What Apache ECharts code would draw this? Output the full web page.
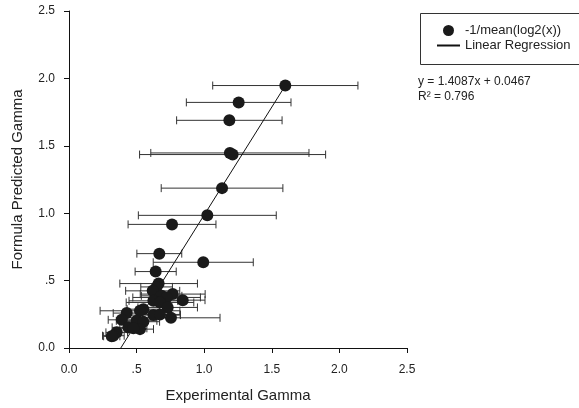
<!DOCTYPE html>
<html>
<head>
<meta charset="utf-8">
<script src="https://cdn.jsdelivr.net/npm/echarts@6/dist/echarts.min.js"></script>
<style>
  html, body { margin: 0; padding: 0; background: #fff; }
  #main { width: 579px; height: 408px; }
</style>
</head>
<body>
<div id="main"></div>
<script>
// measured values (x = experimental, y = predicted, err = half width of x bar)
const expGamma = [1.60, 1.255, 1.186, 1.19, 1.21, 1.132, 1.023, 0.762, 0.668, 0.993,
  0.641, 0.663, 0.648, 0.619, 0.767, 0.685, 0.722, 0.841, 0.624, 0.673,
  0.730, 0.55, 0.525, 0.427, 0.624, 0.673, 0.754, 0.39, 0.50, 0.55,
  0.439, 0.525, 0.476, 0.353, 0.328, 0.316]
const predGamma = [1.947, 1.822, 1.689, 1.447, 1.435, 1.186, 0.984, 0.917, 0.70, 0.636,
  0.567, 0.478, 0.453, 0.424, 0.40, 0.387, 0.375, 0.355, 0.35, 0.338,
  0.301, 0.288, 0.276, 0.259, 0.244, 0.249, 0.224, 0.209, 0.202, 0.195,
  0.153, 0.14, 0.146, 0.116, 0.091, 0.087]
const expErr = [0.537, 0.387, 0.39, 0.585, 0.688, 0.45, 0.51, 0.325, 0.166, 0.37,
  0.152, 0.287, 0.117, 0.2, 0.24, 0.15, 0.25, 0.165, 0.18, 0.25,
  0.22, 0.12, 0.295, 0.1, 0.2, 0.15, 0.363, 0.1, 0.15, 0.12,
  0.12, 0.1, 0.1, 0.08, 0.08, 0.06]

// regression line as drawn
const regX = [0.383, 1.60]
const regY = [0.0, 1.947]

const tickLabels = ['0.0', '.5', '1.0', '1.5', '2.0', '2.5']

const pts = expGamma.map((x, i) => [x, predGamma[i], expErr[i]])
const regLine = regX.map((x, i) => [x, regY[i]])

const chart = echarts.init(document.getElementById('main'))

function fmt(v) {
    return tickLabels[Math.round(v / 0.5)]
}

const font = 'Liberation Sans'

const axisCommon = {
    min: 0, max: 2.5, interval: 0.5,
    splitLine: { show: false },
    axisLine: { show: true, onZero: false, lineStyle: { color: '#111', width: 1 } },
    axisTick: { show: true, inside: false, length: 5, lineStyle: { color: '#111' } },
    axisLabel: { formatter: fmt, color: '#222', fontSize: 12, fontFamily: font, margin: 14 },
    nameLocation: 'middle',
    nameTextStyle: { color: '#222', fontSize: 15, fontFamily: font }
}

const option = {
    animation: false,
    grid: { left: 69, top: 11, width: 338, height: 338 },
    xAxis: Object.assign({}, axisCommon, {
        type: 'value',
        name: 'Experimental Gamma',
        nameGap: 40,
        axisLabel: Object.assign({}, axisCommon.axisLabel, { margin: 16 })
    }),
    yAxis: Object.assign({}, axisCommon, {
        type: 'value',
        name: 'Formula Predicted Gamma',
        nameGap: 44
    }),
    legend: {
        orient: 'vertical',
        left: 431, top: 19,
        itemWidth: 23, itemHeight: 11, itemGap: 2,
        textStyle: { color: '#222', fontSize: 13, fontFamily: font },
        data: [
            { name: '-1/mean(log2(x))', icon: 'circle' },
            { name: 'Linear Regression', itemStyle: { opacity: 0 } }
        ]
    },
    graphic: [
        { type: 'rect', left: 418, top: 11, shape: { width: 170, height: 51 },
          style: { fill: 'none', stroke: '#333', lineWidth: 1 } },
        { type: 'text', left: 418, top: 76,
          style: { text: 'y = 1.4087x + 0.0467', fill: '#222', fontSize: 12, fontFamily: font } },
        { type: 'text', left: 418, top: 91,
          style: { text: 'R² = 0.796', fill: '#222', fontSize: 12, fontFamily: font } }
    ],
    series: [
        {
            type: 'custom',
            name: 'err',
            data: pts,
            encode: { x: 0, y: 1 },
            z: 1,
            renderItem: function (params, api) {
                const y = api.value(1)
                const lo = api.coord([api.value(0) - api.value(2), y])
                const hi = api.coord([api.value(0) + api.value(2), y])
                const st = { stroke: '#333', lineWidth: 1 }
                return {
                    type: 'group',
                    children: [
                        { type: 'line', shape: { x1: lo[0], y1: lo[1], x2: hi[0], y2: hi[1] }, style: st },
                        { type: 'line', shape: { x1: lo[0], y1: lo[1] - 4, x2: lo[0], y2: lo[1] + 4 }, style: st },
                        { type: 'line', shape: { x1: hi[0], y1: hi[1] - 4, x2: hi[0], y2: hi[1] + 4 }, style: st }
                    ]
                }
            }
        },
        {
            type: 'line',
            name: 'Linear Regression',
            data: regLine,
            symbol: 'none',
            z: 2,
            lineStyle: { color: '#111', width: 1 },
            itemStyle: { color: '#111' }
        },
        {
            type: 'scatter',
            name: '-1/mean(log2(x))',
            data: pts,
            symbolSize: 12,
            z: 3,
            itemStyle: { color: '#1a1a1a', opacity: 1 }
        }
    ]
}

chart.setOption(option)
</script>
</body>
</html>
